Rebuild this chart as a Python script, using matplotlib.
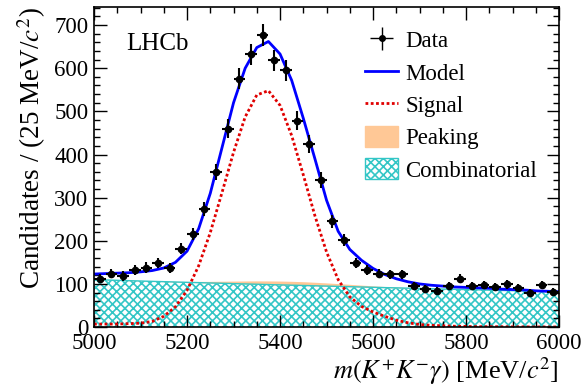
import numpy as np
import matplotlib
matplotlib.use("Agg")
import matplotlib.pyplot as plt
from matplotlib.ticker import MultipleLocator
from matplotlib.patches import Patch
from matplotlib.lines import Line2D

plt.rcParams["font.family"] = ["Liberation Serif", "DejaVu Serif"]
plt.rcParams["mathtext.fontset"] = "stix"
plt.rcParams["hatch.linewidth"] = 1.2

# binned data, 25 MeV bins
bin_centers = np.arange(5012.5, 6000, 25.0)
counts = [112, 124, 118, 132, 138, 148, 137, 182, 216, 274,
          360, 460, 576, 632, 677, 618, 595, 478, 424, 340,
          245, 201, 148, 132, 124, 122, 122, 95, 89, 83,
          95, 112, 95, 97, 93, 99, 91, 79, 97, 82]

# fit components every 25 MeV from 5000 to 6000
m_grid = np.arange(5000, 6001, 25)
model = [123, 124, 125, 126, 128, 131, 137, 150, 176, 228,
         310, 415, 520, 600, 648, 662, 633, 572, 484, 390,
         294, 222, 180, 155, 136, 122, 112, 105, 100, 97,
         95, 93, 92, 91, 90, 88, 87, 86, 84, 83, 82]
signal = [7, 7, 7, 8, 9, 13, 25, 47, 85, 142,
          219, 311, 405, 487, 538, 548, 514, 444, 353, 258,
          174, 110, 70, 48, 35, 25, 16, 10, 6, 4,
          3, 2, 1.5, 1, 1, 0.8, 0.6, 0.5, 0.4, 0.3, 0.3]
peaking = [0.0, 0.1, 0.2, 0.3, 0.4, 0.7, 1.0, 1.5, 2.1, 2.9,
           3.8, 4.8, 5.9, 6.9, 7.8, 8.5, 8.9, 9.0, 8.8, 8.2,
           7.4, 6.5, 5.5, 4.4, 3.4, 2.6, 1.9, 1.3, 0.9, 0.6,
           0.4, 0.2, 0.1, 0.1, 0, 0, 0, 0, 0, 0, 0]
combinatorial = [110, 109.2, 108.4, 107.6, 106.8, 106.0, 105.3, 104.5, 103.7, 103.0,
                 102.2, 101.5, 100.7, 100.0, 99.3, 98.5, 97.8, 97.1, 96.4, 95.7,
                 95.0, 94.3, 93.6, 92.9, 92.2, 91.5, 90.9, 90.2, 89.5, 88.9,
                 88.2, 87.6, 86.9, 86.3, 85.6, 85.0, 84.4, 83.8, 83.1, 82.5, 81.9]

cyan = "#33c6c6"
orange = "#ffc896"
dots = (0, (1, 0.9))

fig = plt.figure(figsize=(5.85, 3.88), dpi=100)
ax = fig.add_axes([0.1607, 0.157, 0.795, 0.825])

comb = np.array(combinatorial)
peak_top = comb + np.array(peaking)
ax.fill_between(m_grid, 0, comb, facecolor="white", edgecolor=cyan,
                hatch="xxxx", linewidth=0)
ax.plot(m_grid, comb, color=cyan, lw=1)
ax.fill_between(m_grid, comb, peak_top, color=orange, linewidth=0)
ax.plot(m_grid, signal, color="#e00000", lw=2, ls=dots)
ax.plot(m_grid, model, color="#0000ff", lw=2)

counts = np.array(counts)
ax.errorbar(bin_centers, counts, xerr=12.5, yerr=np.sqrt(counts), fmt="o",
            color="black", ms=4.5, elinewidth=1.5, capsize=0)

ax.set_xlim(5000, 6000)
ax.set_ylim(0, 742)
ax.xaxis.set_major_locator(MultipleLocator(200))
ax.xaxis.set_minor_locator(MultipleLocator(50))
ax.yaxis.set_major_locator(MultipleLocator(100))
ax.yaxis.set_minor_locator(MultipleLocator(20))
ax.tick_params(which="both", direction="in", top=True, right=True,
               labelsize=16.5, width=1)
ax.tick_params(which="major", length=9)
ax.tick_params(which="minor", length=4.5)
ax.tick_params(axis="x", pad=4)
ax.tick_params(axis="y", pad=4)
for s in ax.spines.values():
    s.set_linewidth(1.2)

ax.set_xlabel(r"$m(K^{+}K^{-}\gamma)$ [MeV/$c^{2}$]", fontsize=19, loc="right")
ax.xaxis.set_label_coords(1.0, -0.088)
ax.set_ylabel(r"Candidates / (25 MeV/$c^{2}$)", fontsize=19.5, loc="top")
ax.yaxis.set_label_coords(-0.10, 1.0)

ax.text(0.07, 0.885, "LHCb", transform=ax.transAxes, fontsize=18,
        ha="left", va="center")

h_data = ax.errorbar([], [], xerr=[], yerr=[], fmt="o", color="black",
                     ms=4, elinewidth=1.0, capsize=0)
h_model = Line2D([], [], color="#0000ff", lw=2)
h_sig = Line2D([], [], color="#e00000", lw=2, ls=dots)
h_peak = Patch(facecolor=orange, edgecolor=orange)
h_comb = Patch(facecolor="white", edgecolor=cyan, hatch="xxxx")
ax.legend([h_data, h_model, h_sig, h_peak, h_comb],
          ["Data", "Model", "Signal", "Peaking", "Combinatorial"],
          loc="upper left", bbox_to_anchor=(0.583, 0.93), frameon=False,
          fontsize=16.5, handlelength=1.45, handleheight=1.0,
          handletextpad=0.3, labelspacing=0.4, borderpad=0, borderaxespad=0)

fig.savefig("out.png", dpi=100)
